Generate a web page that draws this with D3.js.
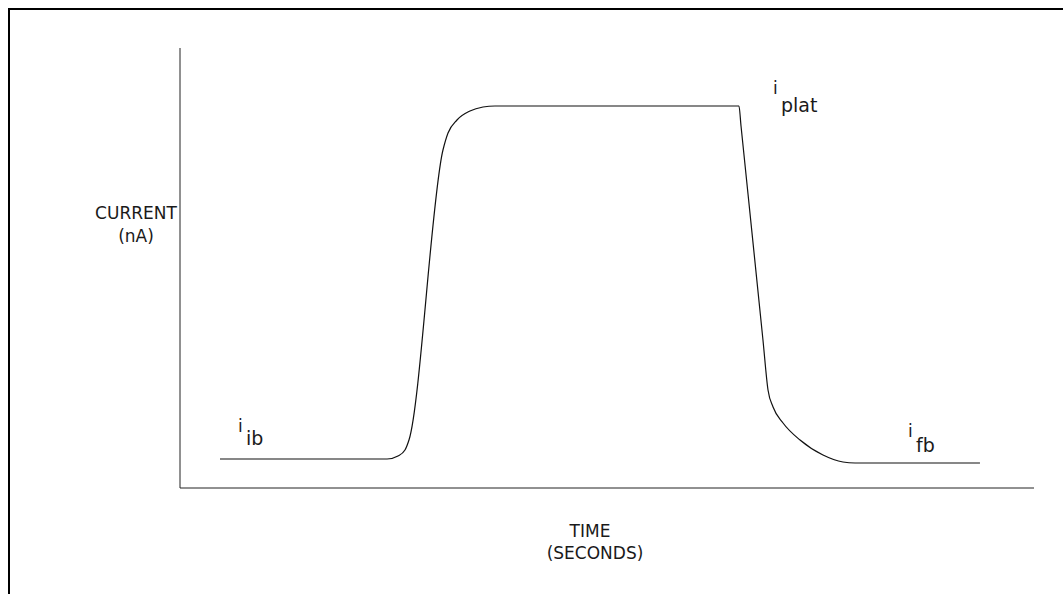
<!DOCTYPE html>
<html>
<head>
<meta charset="utf-8">
<script src="https://cdn.jsdelivr.net/npm/d3@7"></script>
<style>
  html, body { margin: 0; padding: 0; background: #fff; }
  svg text { font-family: "DejaVu Sans", "Liberation Sans", sans-serif; fill: #1a1a1a; }
</style>
</head>
<body>
<svg id="chart" width="1063" height="594"></svg>
<script>
// ---- data (relative units) ----
const timeValues    = [4.8, 24.36, 25.64, 26.46, 26.93, 30.91, 31.5, 32.55, 34.07, 35.6, 37.0, 65.57, 65.81, 68.38, 68.97, 69.56, 70.73, 72.72, 75.41, 77.75, 79.16, 93.79];
const currentValues = [6.36, 6.36, 7.05, 8.41, 10.68, 76.59, 80.45, 83.41, 85.45, 86.36, 86.59, 86.59, 82.05, 33.41, 22.05, 18.18, 14.55, 10.68, 7.27, 5.68, 5.45, 5.45];
const labelNames    = ["ib", "plat", "fb"];
const labelTimes    = [6.91, 69.56, 85.36];   // where the leading "i" sits
const labelCurrents = [12.5, 89.3, 11.36];    // baseline of the leading "i"
const subCurrents   = [9.55, 85.23, 7.95];    // baseline of the subscript
const xAxisTitle = ["TIME", "(SECONDS)"];
const yAxisTitle = ["CURRENT", "(nA)"];

const svg = d3.select("#chart");
const W = 1063, H = 594;

// frame (top and left edges only)
svg.append("line").attr("x1", 8).attr("y1", 9).attr("x2", W).attr("y2", 9)
  .attr("stroke", "#000").attr("stroke-width", 2);
svg.append("line").attr("x1", 9).attr("y1", 8).attr("x2", 9).attr("y2", H)
  .attr("stroke", "#000").attr("stroke-width", 2);

const x = d3.scaleLinear().domain([0, 100]).range([179, 1033]);
const y = d3.scaleLinear().domain([0, 100]).range([487, 47]);

const gx = svg.append("g").attr("transform", `translate(0.5,${y(0) + 0.5})`)
  .call(d3.axisBottom(x).ticks(0).tickSizeOuter(0));
const gy = svg.append("g").attr("transform", `translate(${x(0) + 0.5},0.5)`)
  .call(d3.axisLeft(y).ticks(0).tickSizeOuter(0));
[gx, gy].forEach(g => g.select(".domain").attr("stroke", "#222").attr("stroke-width", 1));

const pts = timeValues.map((t, i) => [t, currentValues[i]]);
const line = d3.line().x(d => x(d[0])).y(d => y(d[1])).curve(d3.curveMonotoneX);
svg.append("path").attr("d", line(pts)).attr("fill", "none")
  .attr("stroke", "#111").attr("stroke-width", 1.2);

// labels: leading "i" with a lowered subscript
labelNames.forEach((name, i) => {
  const px = x(labelTimes[i]);
  svg.append("text").attr("x", px).attr("y", y(labelCurrents[i]))
    .attr("font-size", 17).text("i");
  svg.append("text").attr("x", px + 8).attr("y", y(subCurrents[i]))
    .attr("font-size", 19).text(name);
});

// axis titles
function title(txt, cx, cy, size) {
  svg.append("text").attr("x", cx).attr("y", cy).attr("text-anchor", "middle")
    .attr("font-size", size).text(txt);
}
title(xAxisTitle[0], 590, 537, 17);
title(xAxisTitle[1], 595, 559, 17);
title(yAxisTitle[0], 136, 219, 17);
title(yAxisTitle[1], 136, 242, 17);
</script>
</body>
</html>
